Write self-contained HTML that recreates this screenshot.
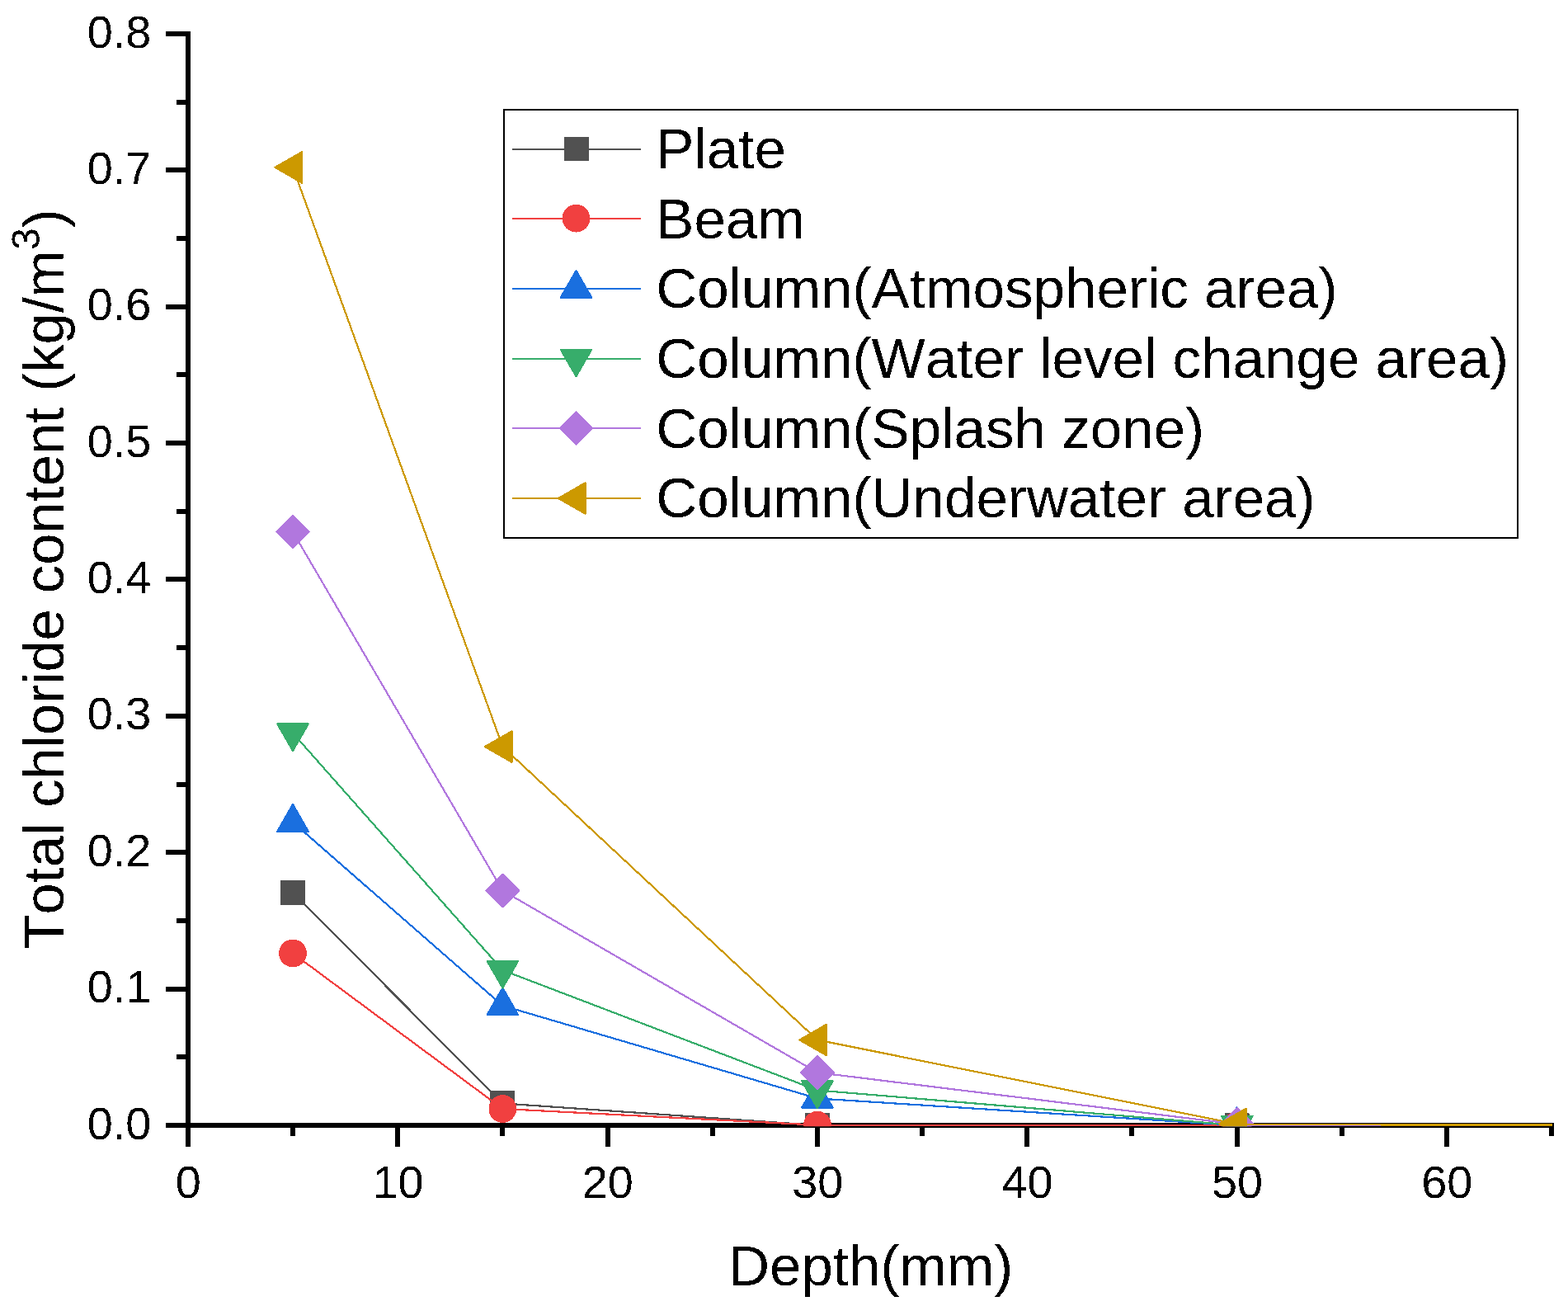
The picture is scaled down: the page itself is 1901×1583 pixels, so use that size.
<!DOCTYPE html>
<html lang="en">
<head>
<meta charset="utf-8">
<title>Total chloride content vs depth</title>
<style>
html,body{margin:0;padding:0;background:#fff;}
body{width:1901px;height:1583px;overflow:hidden;}
svg{display:block;}
text{font-family:"Liberation Sans", Arial, Helvetica, sans-serif;fill:#000;font-kerning:none;font-variant-ligatures:none;filter:url(#bin);}
.tick{font-size:55.8px;}
.title{font-size:69.5px;}
.leg{font-size:69.15px;}
</style>
</head>
<body>
<svg width="1901" height="1583" viewBox="0 0 1901 1583">
<rect x="0" y="0" width="1901" height="1583" fill="#ffffff"/>
<defs><filter id="bin" x="-5%" y="-5%" width="110%" height="110%" color-interpolation-filters="sRGB"><feComponentTransfer><feFuncA type="discrete" tableValues="0 1"/></feComponentTransfer></filter><clipPath id="plot"><rect x="228" y="0" width="1654" height="1365.3"/></clipPath></defs>

<g fill="#000" shape-rendering="crispEdges">
<rect x="225" y="38" width="6" height="1352"/>
<rect x="201" y="1361" width="1683" height="6"/>
<rect x="201" y="1196" width="24" height="6"/>
<rect x="201" y="1030" width="24" height="6"/>
<rect x="201" y="865" width="24" height="6"/>
<rect x="201" y="699" width="24" height="6"/>
<rect x="201" y="534" width="24" height="6"/>
<rect x="201" y="369" width="24" height="6"/>
<rect x="201" y="203" width="24" height="6"/>
<rect x="201" y="38" width="24" height="6"/>
<rect x="214" y="1278" width="11" height="6"/>
<rect x="214" y="1113" width="11" height="6"/>
<rect x="214" y="948" width="11" height="6"/>
<rect x="214" y="782" width="11" height="6"/>
<rect x="214" y="617" width="11" height="6"/>
<rect x="214" y="451" width="11" height="6"/>
<rect x="214" y="286" width="11" height="6"/>
<rect x="214" y="121" width="11" height="6"/>
<rect x="479" y="1367" width="6" height="23"/>
<rect x="734" y="1367" width="6" height="23"/>
<rect x="988" y="1367" width="6" height="23"/>
<rect x="1242" y="1367" width="6" height="23"/>
<rect x="1497" y="1367" width="6" height="23"/>
<rect x="1751" y="1367" width="6" height="23"/>
<rect x="352" y="1367" width="6" height="10"/>
<rect x="606" y="1367" width="6" height="10"/>
<rect x="861" y="1367" width="6" height="10"/>
<rect x="1115" y="1367" width="6" height="10"/>
<rect x="1369" y="1367" width="6" height="10"/>
<rect x="1624" y="1367" width="6" height="10"/>
<rect x="1878" y="1367" width="6" height="10"/>
</g>
<g class="tick">
<text x="183.4" y="1380.6" text-anchor="end">0.0</text>
<text x="183.4" y="1215.22" text-anchor="end">0.1</text>
<text x="183.4" y="1049.85" text-anchor="end">0.2</text>
<text x="183.4" y="884.48" text-anchor="end">0.3</text>
<text x="183.4" y="719.1" text-anchor="end">0.4</text>
<text x="183.4" y="553.73" text-anchor="end">0.5</text>
<text x="183.4" y="388.35" text-anchor="end">0.6</text>
<text x="183.4" y="222.97" text-anchor="end">0.7</text>
<text x="183.4" y="57.6" text-anchor="end">0.8</text>
<text x="228.15" y="1451.8" text-anchor="middle">0</text>
<text x="482.51" y="1451.8" text-anchor="middle">10</text>
<text x="736.87" y="1451.8" text-anchor="middle">20</text>
<text x="991.23" y="1451.8" text-anchor="middle">30</text>
<text x="1245.59" y="1451.8" text-anchor="middle">40</text>
<text x="1499.95" y="1451.8" text-anchor="middle">50</text>
<text x="1754.31" y="1451.8" text-anchor="middle">60</text>
</g>
<text class="title" style="font-size:69px" x="1055.8" y="1558" text-anchor="middle">Depth(mm)</text>
<text class="title" style="font-size:68.7px" transform="translate(76.8,702) rotate(-90)" text-anchor="middle">Total chloride content (kg/m<tspan dy="-29.3" style="font-size:48px">3</tspan><tspan dy="29.3">)</tspan></text>
<g clip-path="url(#plot)" shape-rendering="crispEdges">
<polyline points="355.03,1082.04 609.39,1337.37 990.93,1364 1499.65,1364" fill="none" stroke="#515151" stroke-width="2.2"/>
<rect x="340.03" y="1067.04" width="30" height="30" rx="1" fill="#515151"/>
<rect x="594.39" y="1322.37" width="30" height="30" rx="1" fill="#515151"/>
<rect x="975.93" y="1349" width="30" height="30" rx="1" fill="#515151"/>
<rect x="1484.65" y="1349" width="30" height="30" rx="1" fill="#515151"/>
<polyline points="355.03,1155.46 609.39,1343.99 990.93,1363.67 1499.65,1364" fill="none" stroke="#F14040" stroke-width="2.2"/>
<circle cx="355.03" cy="1155.46" r="16.9" fill="#F14040"/>
<circle cx="609.39" cy="1343.99" r="16.9" fill="#F14040"/>
<circle cx="990.93" cy="1363.67" r="16.9" fill="#F14040"/>
<circle cx="1499.65" cy="1364" r="16.9" fill="#F14040"/>
<polyline points="355.03,996.54 609.39,1218.97 990.93,1331.42 1499.65,1364" fill="none" stroke="#1A6FDF" stroke-width="2.2"/>
<polygon points="355.03,974.84 373.93,1007.74 336.13,1007.74" fill="#1A6FDF" stroke="#1A6FDF" stroke-width="2" stroke-linejoin="round"/>
<polygon points="609.39,1197.27 628.29,1230.17 590.49,1230.17" fill="#1A6FDF" stroke="#1A6FDF" stroke-width="2" stroke-linejoin="round"/>
<polygon points="990.93,1309.72 1009.83,1342.62 972.03,1342.62" fill="#1A6FDF" stroke="#1A6FDF" stroke-width="2" stroke-linejoin="round"/>
<polygon points="1499.65,1342.3 1518.55,1375.2 1480.75,1375.2" fill="#1A6FDF" stroke="#1A6FDF" stroke-width="2" stroke-linejoin="round"/>
<polyline points="355.03,888.55 609.39,1175.97 990.93,1321.5 1499.65,1364" fill="none" stroke="#37AD6B" stroke-width="2.2"/>
<polygon points="355.03,910.25 373.93,877.35 336.13,877.35" fill="#37AD6B" stroke="#37AD6B" stroke-width="2" stroke-linejoin="round"/>
<polygon points="609.39,1197.67 628.29,1164.77 590.49,1164.77" fill="#37AD6B" stroke="#37AD6B" stroke-width="2" stroke-linejoin="round"/>
<polygon points="990.93,1343.2 1009.83,1310.3 972.03,1310.3" fill="#37AD6B" stroke="#37AD6B" stroke-width="2" stroke-linejoin="round"/>
<polygon points="1499.65,1385.7 1518.55,1352.8 1480.75,1352.8" fill="#37AD6B" stroke="#37AD6B" stroke-width="2" stroke-linejoin="round"/>
<polyline points="355.03,644.62 609.39,1079.56 990.93,1300 1499.65,1362.68 1499.65,1364.3 1674,1364.3" fill="none" stroke="#B177DE" stroke-width="2.2"/>
<polygon points="355.03,624.77 374.88,644.62 355.03,664.47 335.18,644.62" fill="#B177DE" stroke="#B177DE" stroke-width="2" stroke-linejoin="round"/>
<polygon points="609.39,1059.71 629.24,1079.56 609.39,1099.4 589.54,1079.56" fill="#B177DE" stroke="#B177DE" stroke-width="2" stroke-linejoin="round"/>
<polygon points="990.93,1280.15 1010.78,1300 990.93,1319.85 971.08,1300" fill="#B177DE" stroke="#B177DE" stroke-width="2" stroke-linejoin="round"/>
<polygon points="1499.65,1342.83 1519.5,1362.68 1499.65,1382.53 1479.8,1362.68" fill="#B177DE" stroke="#B177DE" stroke-width="2" stroke-linejoin="round"/>
<polyline points="355.03,202.9 609.39,905.08 990.93,1260.48 1499.65,1362.35 1499.65,1362.9 1890,1363.2" fill="none" stroke="#CC9900" stroke-width="2.2"/>
<rect x="1674" y="1362.3" width="210" height="3" fill="#CC9900"/>
<polygon points="333.33,202.9 366.23,184 366.23,221.8" fill="#CC9900" stroke="#CC9900" stroke-width="2" stroke-linejoin="round"/>
<polygon points="587.69,905.08 620.59,886.18 620.59,923.98" fill="#CC9900" stroke="#CC9900" stroke-width="2" stroke-linejoin="round"/>
<polygon points="969.23,1260.48 1002.13,1241.58 1002.13,1279.38" fill="#CC9900" stroke="#CC9900" stroke-width="2" stroke-linejoin="round"/>
<polygon points="1477.95,1362.35 1510.85,1343.45 1510.85,1381.25" fill="#CC9900" stroke="#CC9900" stroke-width="2" stroke-linejoin="round"/>
</g>
<g shape-rendering="crispEdges">
<rect x="611" y="133" width="1229" height="519" fill="#fff" stroke="#000" stroke-width="1.8"/>
<line x1="621" y1="181" x2="777" y2="181" stroke="#515151" stroke-width="2"/>
<rect x="684" y="166.1" width="30" height="28.6" rx="1" fill="#515151"/>
<line x1="621" y1="264.7" x2="777" y2="264.7" stroke="#F14040" stroke-width="2"/>
<circle cx="698.5" cy="264.7" r="16.9" fill="#F14040"/>
<line x1="621" y1="349.6" x2="777" y2="349.6" stroke="#1A6FDF" stroke-width="2"/>
<polygon points="698.5,327.9 717.4,360.8 679.6,360.8" fill="#1A6FDF" stroke="#1A6FDF" stroke-width="2" stroke-linejoin="round"/>
<line x1="621" y1="434.7" x2="777" y2="434.7" stroke="#37AD6B" stroke-width="2"/>
<polygon points="698.5,456.4 717.4,423.5 679.6,423.5" fill="#37AD6B" stroke="#37AD6B" stroke-width="2" stroke-linejoin="round"/>
<line x1="621" y1="519" x2="777" y2="519" stroke="#B177DE" stroke-width="2"/>
<polygon points="698.5,499.15 718.35,519 698.5,538.85 678.65,519" fill="#B177DE" stroke="#B177DE" stroke-width="2" stroke-linejoin="round"/>
<line x1="621" y1="604" x2="777" y2="604" stroke="#CC9900" stroke-width="2"/>
<polygon points="676.8,604 709.7,585.1 709.7,622.9" fill="#CC9900" stroke="#CC9900" stroke-width="2" stroke-linejoin="round"/>
</g>
<text class="leg" x="795.3" y="204.2">Plate</text>
<text class="leg" x="795.3" y="288.8">Beam</text>
<text class="leg" x="795.3" y="373.4">Column(Atmospheric area)</text>
<text class="leg" x="795.3" y="458">Column(Water level change area)</text>
<text class="leg" x="795.3" y="542.6">Column(Splash zone)</text>
<text class="leg" x="795.3" y="627.2">Column(Underwater area)</text>
</svg>
</body>
</html>
